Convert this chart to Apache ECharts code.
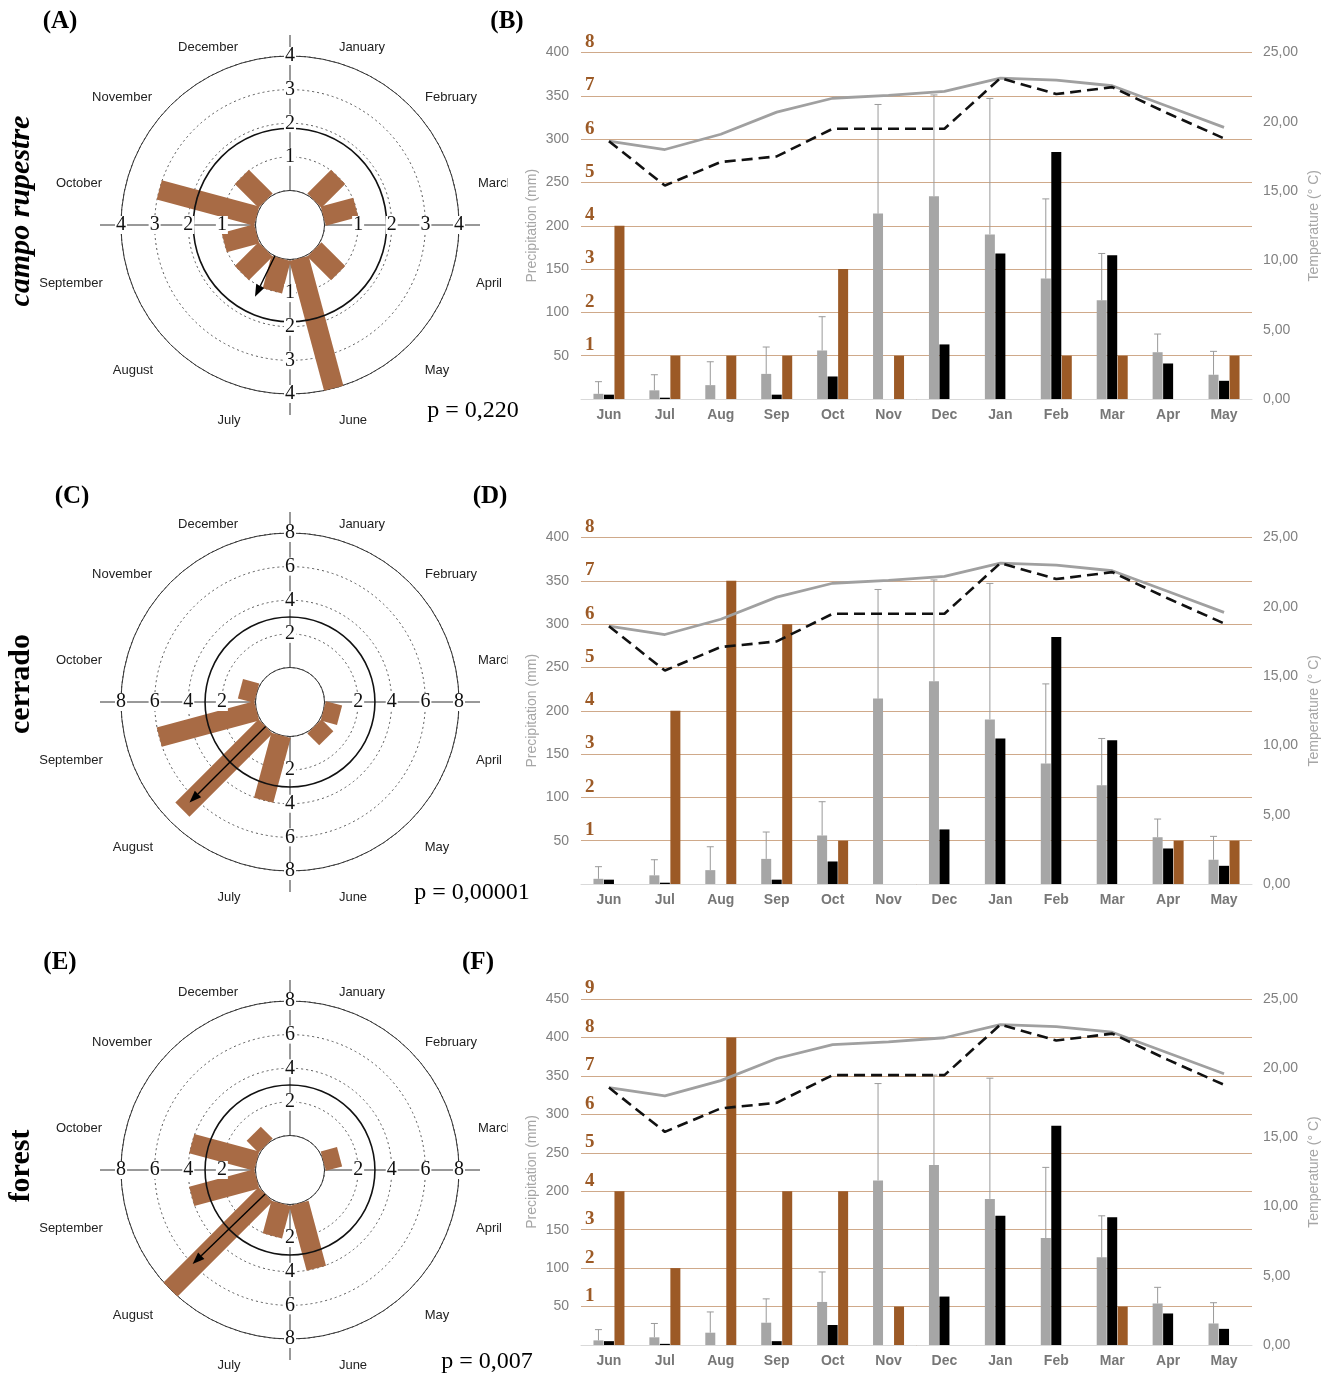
<!DOCTYPE html>
<html>
<head>
<meta charset="utf-8">
<script src="https://cdn.jsdelivr.net/npm/echarts@6/dist/echarts.min.js"></script>
<style>
html, body { margin: 0; padding: 0; background: #fff; }
#fig { width: 1333px; height: 1374px; }
</style>
</head>
<body>
<div id="fig"></div>
<script>
// months as on the bar charts (June .. May)
const months = ['Jun', 'Jul', 'Aug', 'Sep', 'Oct', 'Nov', 'Dec', 'Jan', 'Feb', 'Mar', 'Apr', 'May'];
const monthNames = ['January', 'February', 'March', 'April', 'May', 'June',
  'July', 'August', 'September', 'October', 'November', 'December'];

// precipitation (mm): mean with upper error, and the study year
const rainMean  = [6, 10, 16, 29, 56, 214, 234, 190, 139, 114, 54, 28];
const rainUpper = [20, 28, 43, 60, 95, 340, 351, 347, 231, 168, 75, 55];
const rainYear  = [5, 1.5, 0, 5, 26, 0, 63, 168, 285, 166, 41, 21];

// temperature (° C)
const tempGray = [18.6, 18.0, 19.1, 20.7, 21.7, 21.9, 22.2, 23.15, 23.0, 22.6, 21.1, 19.6];
const tempDash = [18.6, 15.4, 17.1, 17.5, 19.5, 19.5, 19.5, 23.15, 22.0, 22.5, 20.6, 18.8];

// species per month (brown bars, same in rose and bar chart)
const sppCampo   = [4, 1, 1, 1, 3, 1, 0, 0, 1, 1, 0, 1];
const sppCerrado = [0, 4, 7, 6, 1, 0, 0, 0, 0, 0, 1, 1];
const sppForest  = [4, 2, 8, 4, 4, 1, 0, 0, 0, 1, 0, 0];

// mean vector [length, direction in degrees clockwise from north]
const vecCampo = [1.35, 206];
const vecCerrado = [6.4, 225];
const vecForest = [6.0, 226];
// black reference circle
const critCampo = 1.85, critCerrado = 3.0, critForest = 3.0;

const ringTicksCampo = [1, 2, 3, 4];
const ringTicksOther = [2, 4, 6, 8];
const rainMax = [400, 400, 450];
const sppMax = [8, 8, 9];
const pTexts = ['p = 0,220', 'p = 0,00001', 'p = 0,007'];

// ---- layout ----
const BROWN = '#9c5a26';
const ROSE = '#a86b45';
const GRIDC = '#cfa98a';
const panels = [
  { spp: sppCampo, vec: vecCampo, crit: critCampo, ticks: ringTicksCampo, cy: 225, top: 52.5, h: 346.5 },
  { spp: sppCerrado, vec: vecCerrado, crit: critCerrado, ticks: ringTicksOther, cy: 702, top: 537.5, h: 346.5 },
  { spp: sppForest, vec: vecForest, crit: critForest, ticks: ringTicksOther, cy: 1170, top: 999, h: 346 }
];
// month label offsets from the rose centre (calendar order)
const labelOff = [[72, -178], [161, -128], [206, -42], [199, 58], [147, 145], [63, 195],
  [-61, 195], [-157, 145], [-219, 58], [-211, -42], [-168, -128], [-82, -178]];

function roseAngle(i) { return 15 + 30 * ((i + 5) % 12); } // Jun-index -> degrees

const chart = echarts.init(document.getElementById('fig'));

const option = {
  animation: false,
  polar: [], angleAxis: [], radiusAxis: [],
  grid: [], xAxis: [], yAxis: [], series: [],
  graphic: []
};

panels.forEach(function (P, k) {
  const rmax = P.ticks[P.ticks.length - 1];

  // ---------- rose ----------
  option.polar.push({ center: [290, P.cy], radius: [34.5, 169] });
  option.angleAxis.push({
    polarIndex: k, type: 'value', min: 0, max: 360, startAngle: 90, clockwise: true,
    axisLine: { lineStyle: { color: '#333', width: 1 } },
    axisTick: { show: false }, axisLabel: { show: false }, splitLine: { show: false }
  });
  option.radiusAxis.push({
    polarIndex: k, type: 'value', min: 0, max: rmax, interval: P.ticks[0],
    axisLine: { show: false }, axisTick: { show: false }, axisLabel: { show: false },
    splitLine: { show: true, lineStyle: { color: '#555', width: 1, type: [2, 3] } }
  });

  // cross arms
  option.series.push({
    type: 'custom', coordinateSystem: 'polar', polarIndex: k, silent: true, z: 1,
    data: [[0, 0], [0, 90], [0, 180], [0, 270]],
    renderItem: function (params, api) {
      const cs = params.coordSys;
      const a = api.value(1);
      const p0 = api.coord([0, a]);
      const pm = api.coord([rmax, a]);
      const dx = pm[0] - cs.cx, dy = pm[1] - cs.cy, R = Math.hypot(dx, dy);
      return {
        type: 'line',
        shape: { x1: p0[0], y1: p0[1], x2: cs.cx + dx / R * (R + 21), y2: cs.cy + dy / R * (R + 21) },
        style: { stroke: '#333', lineWidth: 1 }
      };
    }
  });

  // brown rectangles
  option.series.push({
    type: 'custom', coordinateSystem: 'polar', polarIndex: k, silent: true, z: 2,
    data: P.spp.map(function (v, i) { return [v, roseAngle(i)]; }).filter(function (d) { return d[0] > 0; }),
    renderItem: function (params, api) {
      const v = api.value(0), a = api.value(1);
      const p0 = api.coord([0, a]), p1 = api.coord([v, a]);
      const dx = p1[0] - p0[0], dy = p1[1] - p0[1], L = Math.hypot(dx, dy);
      const nx = -dy / L * 10, ny = dx / L * 10;
      return {
        type: 'polygon',
        shape: { points: [[p0[0] + nx, p0[1] + ny], [p1[0] + nx, p1[1] + ny], [p1[0] - nx, p1[1] - ny], [p0[0] - nx, p0[1] - ny]] },
        style: { fill: ROSE }
      };
    }
  });

  // black circle
  option.series.push({
    type: 'custom', coordinateSystem: 'polar', polarIndex: k, silent: true, z: 3,
    data: [[P.crit, 0]],
    renderItem: function (params, api) {
      const cs = params.coordSys;
      const p = api.coord([api.value(0), 0]);
      return {
        type: 'circle',
        shape: { cx: cs.cx, cy: cs.cy, r: Math.hypot(p[0] - cs.cx, p[1] - cs.cy) },
        style: { fill: 'none', stroke: '#111', lineWidth: 1.6 }
      };
    }
  });

  // numbers on the arms
  const tickData = [];
  [0, 90, 180, 270].forEach(function (a) { P.ticks.forEach(function (t) { tickData.push([t, a]); }); });
  option.series.push({
    type: 'custom', coordinateSystem: 'polar', polarIndex: k, silent: true, z: 4,
    data: tickData,
    renderItem: function (params, api) {
      const p = api.coord([api.value(0), api.value(1)]);
      return {
        type: 'text', x: p[0], y: p[1],
        style: {
          text: String(api.value(0)), font: '20px "Liberation Serif"', fill: '#111',
          align: 'center', verticalAlign: 'middle', backgroundColor: '#fff', padding: [-1, 1]
        }
      };
    }
  });

  // mean vector arrow
  option.series.push({
    type: 'custom', coordinateSystem: 'polar', polarIndex: k, silent: true, z: 5,
    data: [P.vec],
    renderItem: function (params, api) {
      const len = api.value(0), a = api.value(1);
      const p0 = api.coord([0, a]), p1 = api.coord([len, a]);
      const dx = p1[0] - p0[0], dy = p1[1] - p0[1], L = Math.hypot(dx, dy);
      const ux = dx / L, uy = dy / L;
      const bx = p1[0] - ux * 12, by = p1[1] - uy * 12;
      const nx = -uy * 4.5, ny = ux * 4.5;
      return {
        type: 'group',
        children: [
          { type: 'line', shape: { x1: p0[0], y1: p0[1], x2: bx, y2: by }, style: { stroke: '#000', lineWidth: 1.4 } },
          { type: 'polygon', shape: { points: [[p1[0], p1[1]], [bx + nx, by + ny], [bx - nx, by - ny]] }, style: { fill: '#000' } }
        ]
      };
    }
  });

  // month names round the rose
  option.series.push({
    type: 'custom', coordinateSystem: 'polar', polarIndex: k, silent: true, z: 4,
    data: monthNames.map(function (n, m) { return [0, 15 + 30 * m]; }),
    renderItem: function (params, api) {
      const cs = params.coordSys;
      const off = labelOff[params.dataIndex];
      return {
        type: 'group',
        clipPath: { type: 'rect', shape: { x: cs.cx - 280, y: cs.cy - 230, width: 280 + 218, height: 460 } },
        children: [{
          type: 'text', x: cs.cx + off[0], y: cs.cy + off[1],
          style: {
            text: monthNames[params.dataIndex], font: '13px "Liberation Sans"', fill: '#222',
            align: 'center', verticalAlign: 'middle'
          }
        }]
      };
    }
  });

  // ---------- bar / line chart ----------
  option.grid.push({ left: 581, width: 671, top: P.top, height: P.h, containLabel: false, outerBoundsMode: 'none' });
  option.xAxis.push({
    gridIndex: k, type: 'category', data: months, boundaryGap: true, z: 3,
    axisTick: { show: false },
    axisLine: { lineStyle: { color: '#d9d9d9', width: 1 } },
    axisLabel: { color: '#777', fontWeight: 'bold', fontSize: 14, fontFamily: 'Liberation Sans', margin: 9 }
  });
  option.yAxis.push({
    gridIndex: k, type: 'value', position: 'left', min: 0, max: rainMax[k], interval: 50,
    axisLine: { show: false }, axisTick: { show: false },
    axisLabel: { color: '#808080', fontSize: 14, fontFamily: 'Liberation Sans', margin: 12,
      formatter: function (v) { return v === 0 ? '' : String(v); } },
    splitLine: { lineStyle: { color: GRIDC, width: 1.2 } },
    name: 'Precipitation (mm)', nameLocation: 'middle', nameGap: 42, nameRotate: 90, nameMoveOverlap: false,
    nameTextStyle: { color: '#a6a6a6', fontSize: 14, fontFamily: 'Liberation Sans' }
  });
  option.yAxis.push({
    gridIndex: k, type: 'value', position: 'right', min: 0, max: 25, interval: 5,
    axisLine: { show: false }, axisTick: { show: false }, splitLine: { show: false },
    axisLabel: { color: '#808080', fontSize: 14, fontFamily: 'Liberation Sans', margin: 11,
      formatter: function (v) { return v.toFixed(2).replace('.', ','); } },
    name: 'Temperature (° C)', nameLocation: 'middle', nameGap: 55, nameRotate: 90, nameMoveOverlap: false,
    nameTextStyle: { color: '#a6a6a6', fontSize: 14, fontFamily: 'Liberation Sans' }
  });
  option.yAxis.push({
    gridIndex: k, type: 'value', position: 'left', min: 0, max: sppMax[k], interval: 1,
    axisLine: { show: false }, axisTick: { show: false }, splitLine: { show: false },
    axisLabel: { inside: true, margin: 4, color: BROWN, fontSize: 19, fontWeight: 'bold',
      fontFamily: 'Liberation Serif', verticalAlign: 'bottom', padding: [0, 0, 1, 0],
      formatter: function (v) { return v === 0 ? '' : String(v); } }
  });

  const yP = 3 * k, yT = 3 * k + 1, yS = 3 * k + 2;
  option.series.push(
    { type: 'bar', xAxisIndex: k, yAxisIndex: yP, data: rainMean, barWidth: 10, barGap: '5%',
      itemStyle: { color: '#a6a6a6' }, silent: true },
    { type: 'bar', xAxisIndex: k, yAxisIndex: yP, data: rainYear, barWidth: 10, barGap: '5%',
      itemStyle: { color: '#000' }, silent: true },
    { type: 'bar', xAxisIndex: k, yAxisIndex: yS, data: P.spp, barWidth: 10, barGap: '5%',
      itemStyle: { color: BROWN }, silent: true },
    { type: 'custom', xAxisIndex: k, yAxisIndex: yP, silent: true, z: 3,
      encode: { x: 0, y: [1, 2] },
      data: months.map(function (m, i) { return [i, rainMean[i], rainUpper[i]]; }),
      renderItem: function (params, api) {
        const i = api.value(0);
        const p0 = api.coord([i, api.value(1)]), p1 = api.coord([i, api.value(2)]);
        const x = p0[0] - 10.5;
        return {
          type: 'group',
          children: [
            { type: 'line', shape: { x1: x, y1: p0[1], x2: x, y2: p1[1] }, style: { stroke: '#9a9a9a', lineWidth: 1 } },
            { type: 'line', shape: { x1: x - 3.5, y1: p1[1], x2: x + 3.5, y2: p1[1] }, style: { stroke: '#9a9a9a', lineWidth: 1 } }
          ]
        };
      }
    },
    { type: 'line', xAxisIndex: k, yAxisIndex: yT, data: tempGray, symbol: 'none', silent: true, z: 4,
      lineStyle: { color: '#a0a0a0', width: 2.8 } },
    { type: 'line', xAxisIndex: k, yAxisIndex: yT, data: tempDash, symbol: 'none', silent: true, z: 4,
      lineStyle: { color: '#111', width: 2.6, type: [11, 6] } }
  );
});

// ---- static texts ----
function txt(t, x, y, font, rot) {
  return { type: 'text', x: x, y: y, rotation: rot || 0, silent: true,
    style: { text: t, font: font, fill: '#000', align: 'center', verticalAlign: 'middle' } };
}
const letterFont = 'bold 25px "Liberation Serif"';
option.graphic = [
  txt('(A)', 60, 22, letterFont), txt('(B)', 507, 22, letterFont),
  txt('(C)', 72, 497, letterFont), txt('(D)', 490, 497, letterFont),
  txt('(E)', 60, 963, letterFont), txt('(F)', 478, 963, letterFont),
  txt('campo rupestre', 21, 211, 'italic bold 30px "Liberation Serif"', Math.PI / 2),
  txt('cerrado', 21, 684, 'bold 30px "Liberation Serif"', Math.PI / 2),
  txt('forest', 21, 1166, 'bold 30px "Liberation Serif"', Math.PI / 2),
  txt(pTexts[0], 473, 411, '24px "Liberation Serif"'),
  txt(pTexts[1], 472, 893, '24px "Liberation Serif"'),
  txt(pTexts[2], 487, 1362, '24px "Liberation Serif"')
];

chart.setOption(option);
window.addEventListener('resize', function () { chart.resize(); });
</script>
</body>
</html>
